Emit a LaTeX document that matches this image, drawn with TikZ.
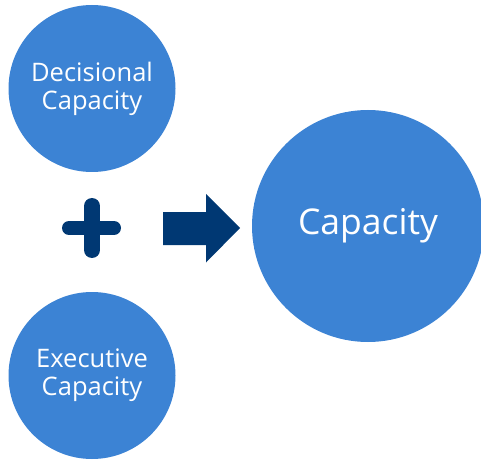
\documentclass[tikz,border=0pt]{standalone}
\usepackage{fontspec}
\setmainfont{Open Sans}
\definecolor{bubble}{HTML}{3C83D4}
\definecolor{navy}{HTML}{003873}
\tikzset{
  bubble/.style={circle, fill=bubble, text=white, inner sep=0pt, align=center},
  small/.style={bubble, minimum size=167pt, font=\fontsize{25.5}{28}\selectfont},
  big/.style={bubble, minimum size=232pt, font=\fontsize{35.5}{40}\selectfont},
  bar/.style={navy, line cap=round},
}
\begin{document}
\begin{tikzpicture}[x=1pt,y=-1pt]
  \useasboundingbox (0,0) rectangle (481,462);
  \begin{scope}
    \clip (0,0) rectangle (481,462);
    % the two inputs and the result
    \node[small] (dec) at (92,88.5) {Decisional\\Capacity};
    \node[small] (exe) at (92,375.5) {Executive\\Capacity};
    \node[big] (cap) at (368,226) {\raisebox{-3pt}{Capacity}};
  \end{scope}
  % plus sign between the inputs
  \draw[bar, line width=14pt] (69,228) -- (114,228);
  \draw[bar, line width=16pt] (92,206) -- (92,250);
  % block arrow pointing to the result
  \fill[navy] (163,212) -- (206,212) -- (206,194) -- (240,228)
              -- (206,262.5) -- (206,245) -- (163,245) -- cycle;
\end{tikzpicture}
\end{document}
